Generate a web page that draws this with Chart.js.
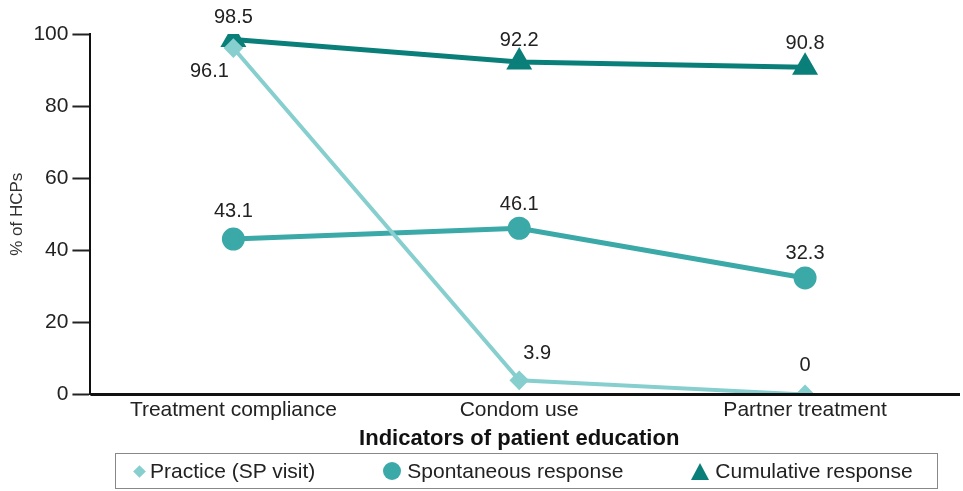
<!DOCTYPE html>
<html>
<head>
<meta charset="utf-8">
<script src="https://cdn.jsdelivr.net/npm/chart.js@4.4.1/dist/chart.umd.min.js"></script>
<style>
  html, body { margin: 0; padding: 0; background: #fff; }
  #wrap { position: relative; width: 963px; height: 491px; }
  #legend {
    position: absolute; left: 115px; top: 453px; width: 823px; height: 36px;
    border: 1px solid #888; display: flex; align-items: center; gap: 68px;
    padding: 0 8px 0 17px; box-sizing: border-box;
    font-family: 'Liberation Sans', Arial, Helvetica, sans-serif; font-size: 21px; color: #222;
  }
  #legend .item { display: flex; align-items: center; }
  #legend .mk { margin-right: 6px; }
  .rectRot { width: 9px; height: 9px; transform: rotate(45deg); margin-left: 2px; }
  .circle { width: 18px; height: 18px; border-radius: 50%; }
  .triangle { width: 0; height: 0; border-left: 9px solid transparent; border-right: 9px solid transparent; border-bottom: 17px solid; }
</style>
</head>
<body>
<div id="wrap"><canvas id="chart" width="963" height="491"></canvas><div id="legend"></div></div>
<script>
const categories = ["Treatment compliance", "Condom use", "Partner treatment"]
const practice = [96.1, 3.9, 0]
const spontaneous = [43.1, 46.1, 32.3]
const cumulative = [98.5, 92.2, 90.8]
const yTicks = [0, 20, 40, 60, 80, 100]

const FONT = "'Liberation Sans', Arial, Helvetica, sans-serif"

// value labels next to each point
const pointLabels = {
    id: "pointLabels",
    afterDatasetsDraw(chart, args, opts) {
        const ctx = chart.ctx
        ctx.save()
        ctx.font = "20px " + FONT
        ctx.fillStyle = "#222"
        ctx.textAlign = "center"
        ctx.textBaseline = "middle"
        chart.data.datasets.forEach((ds, i) => {
            const meta = chart.getDatasetMeta(i)
            meta.data.forEach((pt, j) => {
                const [dx, dy] = opts.offsets[i][j]
                ctx.fillText(String(ds.data[j]), pt.x + dx, pt.y + dy)
            })
        })
        ctx.restore()
    }
}

// heavy x axis line running to the right edge
const xLine = {
    id: "xLine",
    afterDraw(chart) {
        const ctx = chart.ctx
        const {left, bottom} = chart.chartArea
        ctx.save()
        ctx.strokeStyle = "#111"
        ctx.lineWidth = 3
        ctx.beginPath()
        ctx.moveTo(left, bottom)
        ctx.lineTo(chart.width - 3, bottom)
        ctx.stroke()
        ctx.restore()
    }
}

// boxed legend under the chart
const htmlLegend = {
    id: "htmlLegend",
    afterUpdate(chart) {
        const box = document.getElementById("legend")
        box.innerHTML = ""
        chart.data.datasets.forEach(ds => {
            const item = document.createElement("div")
            item.className = "item"
            const mk = document.createElement("span")
            mk.className = "mk " + ds.pointStyle
            if (ds.pointStyle === "triangle") mk.style.borderBottomColor = ds.backgroundColor
            else mk.style.background = ds.backgroundColor
            const txt = document.createElement("span")
            txt.textContent = ds.label
            item.appendChild(mk)
            item.appendChild(txt)
            box.appendChild(item)
        })
    }
}

new Chart(document.getElementById("chart"), {
    type: "line",
    data: {
        labels: categories,
        datasets: [{
            label: "Practice (SP visit)",
            data: practice,
            borderColor: "#86cfce",
            backgroundColor: "#86cfce",
            borderWidth: 4,
            pointStyle: "rectRot",
            pointRadius: 7
        }, {
            label: "Spontaneous response",
            data: spontaneous,
            borderColor: "#3aa9a7",
            backgroundColor: "#3aa9a7",
            borderWidth: 5,
            pointStyle: "circle",
            pointRadius: 9
        }, {
            label: "Cumulative response",
            data: cumulative,
            borderColor: "#0a7f79",
            backgroundColor: "#0a7f79",
            borderWidth: 5,
            pointStyle: "triangle",
            pointRadius: 10
        }]
    },
    options: {
        responsive: false,
        animation: false,
        layout: { padding: { top: 34, right: 4, left: 7, bottom: 39 } },
        scales: {
            x: {
                offset: true,
                grid: { display: false, drawTicks: false },
                border: { display: false },
                ticks: { color: "#222", font: { family: FONT, size: 21 }, padding: 3, maxRotation: 0 },
                title: {
                    display: true,
                    text: "Indicators of patient education",
                    color: "#111",
                    font: { family: FONT, size: 22, weight: "bold" },
                    padding: { top: 0, bottom: 0 }
                }
            },
            y: {
                min: 0,
                max: 100,
                afterBuildTicks(axis) { axis.ticks = yTicks.map(v => ({value: v})) },
                grid: { display: true, drawOnChartArea: false, drawTicks: true, tickLength: 18, color: "#222", tickColor: "#222", tickWidth: 2 },
                border: { display: true, color: "#111", width: 2 },
                ticks: { color: "#222", font: { family: FONT, size: 21 }, padding: 4 },
                title: {
                    display: true,
                    text: "% of HCPs",
                    color: "#333",
                    font: { family: FONT, size: 17 },
                    padding: { top: 0, bottom: 2 }
                }
            }
        },
        plugins: {
            legend: { display: false },
            pointLabels: {
                offsets: [
                    [[-24, 23], [18, -27], [0, -29]],
                    [[0, -28], [0, -24], [0, -25]],
                    [[0, -22], [0, -22], [0, -24]]
                ]
            },
            tooltip: { enabled: false }
        }
    },
    plugins: [pointLabels, xLine, htmlLegend]
})
</script>
</body>
</html>
